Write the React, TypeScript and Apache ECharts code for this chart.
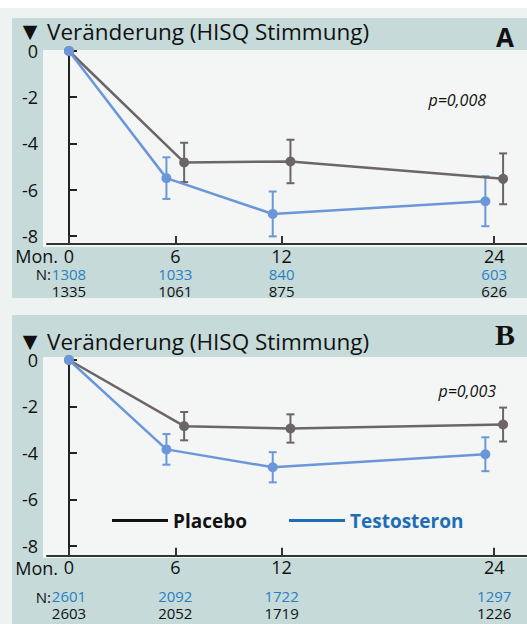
import React, { useEffect, useRef } from "react";
import * as echarts from "echarts";

const months = [0, 6, 12, 24];
const yTicks = [0, -2, -4, -6, -8];

const aTesto = [0, -5.5, -7.05, -6.5];
const aTestoErr = [0, 0.9, 0.97, 1.08];
const aPlacebo = [0, -4.82, -4.78, -5.53];
const aPlaceboErr = [0, 0.85, 0.94, 1.1];
const aNTesto = ["1308", "1033", "840", "603"];
const aNPlacebo = ["1335", "1061", "875", "626"];

const bTesto = [0, -3.85, -4.62, -4.06];
const bTestoErr = [0, 0.66, 0.65, 0.73];
const bPlacebo = [0, -2.85, -2.95, -2.78];
const bPlaceboErr = [0, 0.61, 0.61, 0.73];
const bNTesto = ["2601", "2092", "1722", "1297"];
const bNPlacebo = ["2603", "2052", "1719", "1226"];

const FONT = "'Open Sans', 'Noto Sans', sans-serif";
const GRAY = "#6b6567";
const BLUE = "#6b97da";
const NBLUE = "#2b7fc1";
const LEGBLUE = "#1f6db5";
const TEAL = "#c6dbd9";
const LIGHT = "#f3f6f4";
const OUTER = "#eef3f2";

const OFF_T = -0.5;
const OFF_P = 0.5;

function pts(vals: number[], off: number) {
  return months.map((m, i) => [m === 0 ? 0 : m + off, vals[i]]);
}
function errs(vals: number[], e: number[], off: number) {
  return months.map((m, i) => [m === 0 ? 0 : m + off, vals[i], e[i]]);
}

function errSeries(data: number[][], color: string, idx: number) {
  return {
    type: "custom",
    xAxisIndex: idx,
    yAxisIndex: idx,
    clip: false,
    z: 3,
    data,
    encode: { x: 0, y: 1 },
    renderItem: (params: any, api: any) => {
      const x = api.value(0);
      const m = api.value(1);
      const e = api.value(2);
      if (!e) return null;
      const top = api.coord([x, m + e]);
      const bot = api.coord([x, m - e]);
      const w = 4;
      const st = { stroke: color, lineWidth: 2 };
      return {
        type: "group",
        children: [
          { type: "line", shape: { x1: top[0], y1: top[1], x2: bot[0], y2: bot[1] }, style: st },
          { type: "line", shape: { x1: top[0] - w, y1: top[1], x2: top[0] + w, y2: top[1] }, style: st },
          { type: "line", shape: { x1: bot[0] - w, y1: bot[1], x2: bot[0] + w, y2: bot[1] }, style: st },
        ],
      };
    },
  };
}

function lineSeries(name: string, data: number[][], color: string, idx: number, z: number) {
  return {
    type: "line",
    name,
    xAxisIndex: idx,
    yAxisIndex: idx,
    data,
    symbol: "circle",
    symbolSize: 10,
    z,
    lineStyle: { color, width: 2.5 },
    itemStyle: { color },
  };
}

function xAxisFor(idx: number, nT: string[], nP: string[], spacer: number, nLH: number) {
  return {
    type: "value",
    gridIndex: idx,
    min: -1.24,
    max: 25.85,
    axisLine: { show: true, onZero: false, lineStyle: { color: "#333", width: 2 } },
    axisTick: { show: true, inside: true, length: 8, customValues: months, lineStyle: { color: "#333", width: 2 } },
    splitLine: { show: false },
    axisLabel: {
      show: true,
      margin: 2,
      customValues: months,
      formatter: (v: number) => {
        const i = months.indexOf(v);
        const sp = spacer > 0 ? "\n{s| }" : "";
        return `{t|${v}}${sp}\n{b|${nT[i]}}\n{k|${nP[i]}}`;
      },
      rich: {
        t: { fontSize: 18, lineHeight: 19, color: "#111", fontFamily: FONT },
        s: { fontSize: 4, lineHeight: spacer, fontFamily: FONT },
        b: { fontSize: 15, lineHeight: nLH, color: NBLUE, fontFamily: FONT },
        k: { fontSize: 15, lineHeight: nLH, color: "#111", fontFamily: FONT },
      },
    },
  };
}

function yAxisFor(idx: number, min: number) {
  return {
    type: "value",
    gridIndex: idx,
    min,
    max: 0,
    axisLine: { show: true, lineStyle: { color: "#222", width: 2 } },
    axisTick: { show: true, inside: true, length: 8, customValues: yTicks, lineStyle: { color: "#222", width: 2 } },
    splitLine: { show: false },
    axisLabel: { show: true, margin: 9, customValues: yTicks, fontSize: 18, color: "#111", fontFamily: FONT },
  };
}

function panelGraphics(top: number, bottom: number, plotTop: number, plotBottom: number, title: number, letter: string, letterSize: number, letterFont: string, pText: string, px: number, py: number, monY: number, nY: number) {
  return [
    { type: "rect", z: -10, silent: true, shape: { x: 12, y: top, width: 515, height: bottom - top }, style: { fill: TEAL } },
    { type: "rect", z: -9, silent: true, shape: { x: 43, y: plotTop, width: 484, height: plotBottom - plotTop }, style: { fill: LIGHT } },
    { type: "text", z: 10, style: { text: "▼", x: 30, y: title, fontSize: 19, fill: "#111", align: "center", verticalAlign: "middle", fontFamily: "'DejaVu Sans', sans-serif" } },
    { type: "text", z: 10, style: { text: "Veränderung (HISQ Stimmung)", x: 47, y: title, fontSize: 22.5, fill: "#111", align: "left", verticalAlign: "middle", fontFamily: FONT } },
    { type: "text", z: 10, style: { text: letter, x: 505, y: top + 19, fontSize: letterSize, fontWeight: "bold", fill: "#111", align: "center", verticalAlign: "middle", fontFamily: letterFont } },
    { type: "text", z: 10, style: { text: pText, x: px, y: py, fontSize: 16, fontStyle: "italic", fill: "#111", align: "right", verticalAlign: "middle", fontFamily: FONT } },
    { type: "text", z: 10, style: { text: "Mon.", x: 58, y: monY, fontSize: 18, fill: "#111", align: "right", verticalAlign: "middle", fontFamily: FONT } },
    { type: "text", z: 10, style: { text: "N:", x: 51, y: nY, fontSize: 15, fill: "#111", align: "right", verticalAlign: "middle", fontFamily: FONT } },
  ];
}

export default function App() {
  const ref = useRef<HTMLDivElement>(null);
  useEffect(() => {
    if (!ref.current) return;
    const chart = echarts.init(ref.current, null, { renderer: "svg" });
    const option: any = {
      animation: false,
      backgroundColor: OUTER,
      textStyle: { fontFamily: FONT },
      graphic: [
        { type: "rect", z: -11, silent: true, shape: { x: 0, y: 0, width: 527, height: 8 }, style: { fill: "#ffffff" } },
        ...panelGraphics(18, 298, 50, 247, 31, "A", 26, FONT, "p=0,008", 486, 100, 256, 274),
        ...panelGraphics(315, 624, 357, 558, 341, "B", 30, "'Liberation Serif', serif", "p=0,003", 496, 391, 568, 597),
      ],
      legend: {
        show: true,
        left: 112,
        top: 511,
        padding: 0,
        itemWidth: 56,
        itemHeight: 3,
        itemGap: 42,
        selectedMode: false,
        textStyle: { fontSize: 19, fontWeight: "bold", fontFamily: FONT },
        data: [
          { name: "Placebo", icon: "rect", itemStyle: { color: "#111", borderWidth: 0 }, lineStyle: { color: "#111" }, textStyle: { color: "#111" } },
          { name: "Testosteron", icon: "rect", itemStyle: { color: LEGBLUE, borderWidth: 0 }, lineStyle: { color: LEGBLUE }, textStyle: { color: LEGBLUE } },
        ],
      },
      grid: [
        { left: 47, right: 0, top: 51, height: 193, containLabel: false },
        { left: 47, right: 0, top: 360, height: 195.7, containLabel: false },
      ],
      xAxis: [xAxisFor(0, aNTesto, aNPlacebo, 0, 17.5), xAxisFor(1, bNTesto, bNPlacebo, 11.25, 16.5)],
      yAxis: [yAxisFor(0, -8.35), yAxisFor(1, -8.43)],
      series: [
        errSeries(errs(aPlacebo, aPlaceboErr, OFF_P), GRAY, 0),
        errSeries(errs(aTesto, aTestoErr, OFF_T), BLUE, 0),
        lineSeries("Placebo", pts(aPlacebo, OFF_P), GRAY, 0, 4),
        lineSeries("Testosteron", pts(aTesto, OFF_T), BLUE, 0, 5),
        errSeries(errs(bPlacebo, bPlaceboErr, OFF_P), GRAY, 1),
        errSeries(errs(bTesto, bTestoErr, OFF_T), BLUE, 1),
        lineSeries("Placebo", pts(bPlacebo, OFF_P), GRAY, 1, 4),
        lineSeries("Testosteron", pts(bTesto, OFF_T), BLUE, 1, 5),
      ],
    };
    chart.setOption(option);
    return () => chart.dispose();
  }, []);
  return <div ref={ref} style={{ position: "fixed", left: 0, top: 0, width: 527, height: 624 }} />;
}
